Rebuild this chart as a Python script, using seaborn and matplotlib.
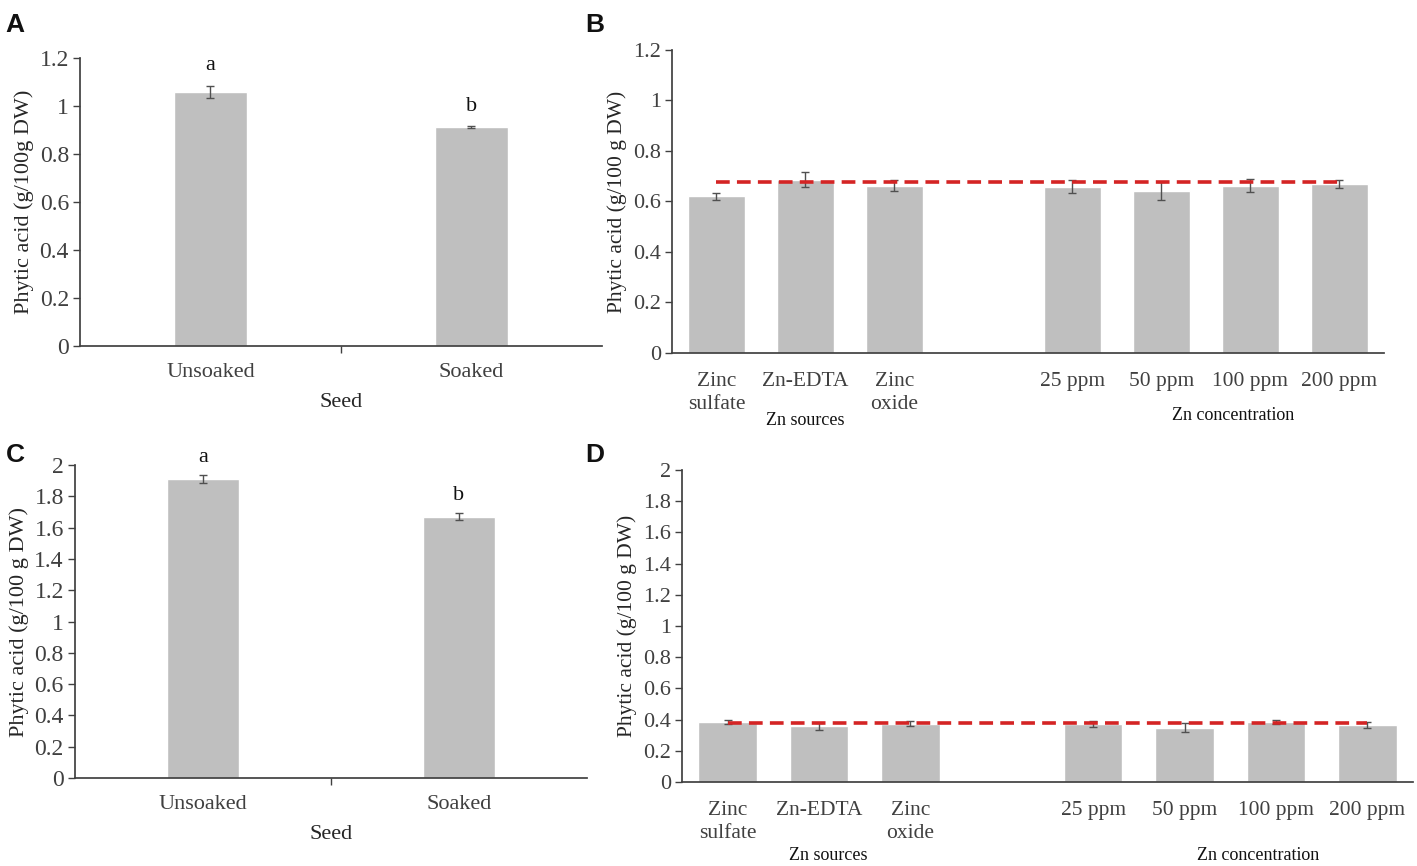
import seaborn as sns
import matplotlib.pyplot as plt
import matplotlib.transforms as mtransforms
import pandas as pd

# Seed soaking panels (A, C)
seed_cats = ['Unsoaked', 'Soaked']
a_vals = [1.058, 0.912]
a_err = [0.025, 0.003]
c_vals = [1.911, 1.671]
c_err = [0.028, 0.024]
letters = ['a', 'b']

# Zn treatment panels (B, D); the blank level is the gap between groups
zn_order = ['Zinc\nsulfate', 'Zn-EDTA', 'Zinc\noxide', ' ', '25 ppm', '50 ppm', '100 ppm', '200 ppm']
zn_cats = ['Zinc\nsulfate', 'Zn-EDTA', 'Zinc\noxide', '25 ppm', '50 ppm', '100 ppm', '200 ppm']
b_vals = [0.620, 0.686, 0.663, 0.658, 0.640, 0.663, 0.669]
b_err = [0.013, 0.029, 0.022, 0.026, 0.036, 0.026, 0.017]
b_control = 0.678
d_vals = [0.385, 0.356, 0.373, 0.373, 0.348, 0.385, 0.364]
d_err = [0.012, 0.020, 0.015, 0.018, 0.029, 0.012, 0.018]
d_control = 0.377

sns.set_theme(style='ticks')
plt.rcParams['font.family'] = ['Liberation Serif', 'DejaVu Serif']
plt.rcParams['axes.edgecolor'] = '#404040'
plt.rcParams['xtick.color'] = '#404040'
plt.rcParams['ytick.color'] = '#404040'
plt.rcParams['text.color'] = '#111111'

BAR = '#bfbfbf'
ERR = '#505050'

fig = plt.figure(figsize=(14.17, 8.66), dpi=100)
ax_a = fig.add_axes([0.0565, 0.6005, 0.368, 0.3326])
ax_b = fig.add_axes([0.4742, 0.5924, 0.5025, 0.3499])
ax_c = fig.add_axes([0.0529, 0.1016, 0.3613, 0.3614])
ax_d = fig.add_axes([0.4813, 0.0970, 0.5159, 0.3603])


def seed_panel(ax, vals, err, ymax, step, ylabel, pad):
    df = pd.DataFrame({'Seed': seed_cats, 'Phytic acid': vals})
    sns.barplot(data=df, x='Seed', y='Phytic acid', order=seed_cats, color=BAR,
                width=0.28, errorbar=None, saturation=1, ax=ax)
    ax.errorbar(range(len(vals)), vals, yerr=err, fmt='none', ecolor=ERR,
                elinewidth=1, capsize=3, capthick=1)
    for i, (v, e, t) in enumerate(zip(vals, err, letters)):
        ax.text(i, v + e + pad, t, ha='center', va='bottom', fontsize=16)
    ax.set_xlim(-0.5, 1.5)
    ax.set_ylim(0, ymax)
    yt = [round(step * k, 1) for k in range(int(round(ymax / step)) + 1)]
    ax.set_yticks(yt)
    ax.set_yticklabels(['%g' % v for v in yt], fontsize=17)
    ax.set_xticks([0, 1])
    ax.set_xticklabels(seed_cats, fontsize=16)
    ax.set_xticks([0.5], minor=True)
    ax.tick_params(axis='x', which='major', length=0, pad=12)
    ax.tick_params(axis='x', which='minor', length=5, width=1)
    ax.tick_params(axis='y', length=5, width=1, pad=3)
    ax.set_xlabel('Seed', fontsize=16, labelpad=8)
    ax.set_ylabel(ylabel, fontsize=16, labelpad=4)
    sns.despine(ax=ax)


def zn_panel(ax, vals, err, control, ymax, step, ylabel, grp_y, src_x):
    df = pd.DataFrame({'Treatment': zn_cats, 'Phytic acid': vals})
    sns.barplot(data=df, x='Treatment', y='Phytic acid', order=zn_order, color=BAR,
                width=0.64, errorbar=None, saturation=1, ax=ax)
    xs = [zn_order.index(c) for c in zn_cats]
    ax.errorbar(xs, vals, yerr=err, fmt='none', ecolor=ERR,
                elinewidth=1, capsize=3, capthick=1)
    ax.hlines(control, xs[0], xs[-1], colors='#d42424', linestyles=(0, (3.8, 2)),
              linewidth=2.6, zorder=5)
    ax.set_xlim(-0.5, 7.5)
    ax.set_ylim(0, ymax)
    yt = [round(step * k, 1) for k in range(int(round(ymax / step)) + 1)]
    ax.set_yticks(yt)
    ax.set_yticklabels(['%g' % v for v in yt], fontsize=16)
    ax.set_xticks(range(len(zn_order)))
    ax.set_xticklabels(zn_order, fontsize=15.5, linespacing=1.25)
    ax.tick_params(axis='x', length=0, pad=14)
    ax.tick_params(axis='y', length=5, width=1, pad=3)
    ax.set_xlabel('')
    ax.set_ylabel(ylabel, fontsize=15.5, labelpad=4)
    tr = mtransforms.blended_transform_factory(ax.transData, ax.transAxes)
    ax.text(src_x, grp_y[0], 'Zn sources', transform=tr, ha='center', va='center', fontsize=13)
    ax.text(5.8, grp_y[1], 'Zn concentration', transform=tr, ha='center', va='center', fontsize=13)
    sns.despine(ax=ax)


seed_panel(ax_a, a_vals, a_err, 1.2, 0.2, 'Phytic acid (g/100g DW)', 0.045)
zn_panel(ax_b, b_vals, b_err, b_control, 1.2, 0.2, 'Phytic acid (g/100 g DW)', (-0.224, -0.205), 1.0)
seed_panel(ax_c, c_vals, c_err, 2.0, 0.2, 'Phytic acid (g/100 g DW)', 0.05)
zn_panel(ax_d, d_vals, d_err, d_control, 2.0, 0.2, 'Phytic acid (g/100 g DW)', (-0.237, -0.237), 1.1)

for lab, x, y in [('A', 0.004, 0.985), ('B', 0.413, 0.985), ('C', 0.004, 0.488), ('D', 0.413, 0.488)]:
    fig.text(x, y, lab, fontsize=19, fontweight='bold', family=['Liberation Sans', 'DejaVu Sans'],
             ha='left', va='top')

fig.savefig('out.png', dpi=100)
